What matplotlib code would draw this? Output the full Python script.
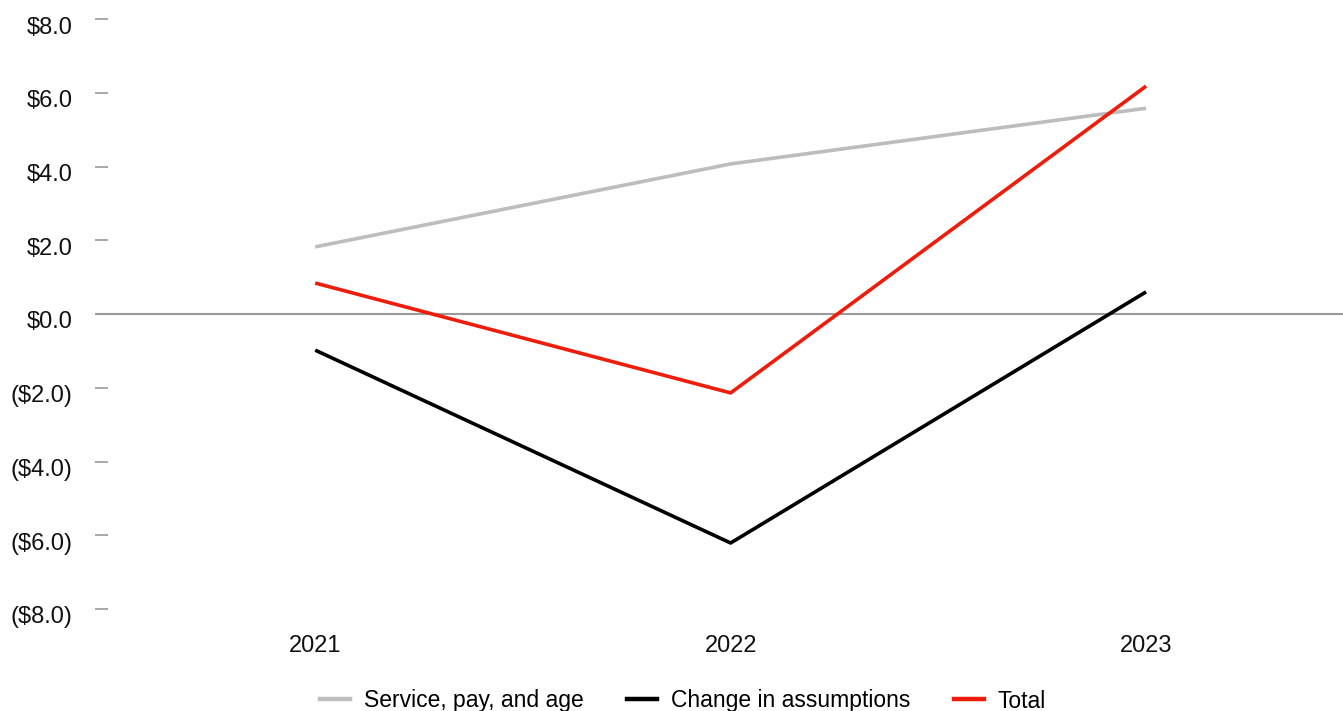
import matplotlib
matplotlib.use("Agg")
import matplotlib.pyplot as plt
import matplotlib.transforms as mtransforms
from matplotlib.lines import Line2D

years = ["2021", "2022", "2023"]
service_pay_age = [1.82, 4.07, 5.58]
change_assumptions = [-0.98, -6.21, 0.60]
total = [0.84, -2.14, 6.18]
y_ticks = [-8, -6, -4, -2, 0, 2, 4, 6, 8]
series_names = ["Service, pay, and age", "Change in assumptions", "Total"]
colors = ["#bdbdbd", "#000000", "#ee1c0a"]

plt.rcParams['font.family'] = ['Liberation Sans', 'DejaVu Sans']

W, H = 1343, 711
fig = plt.figure(figsize=(W / 100, H / 100), dpi=100)
left = 95 / W
bottom = 1 - 609 / H
top = 1 - 19 / H
ax = fig.add_axes([left, bottom, 1 - left, top - bottom])

x = list(range(len(years)))
for vals, c, name in zip([service_pay_age, change_assumptions, total], colors, series_names):
    ax.plot(x, vals, color=c, lw=2.6, label=name, solid_capstyle='butt', zorder=3)

ax.axhline(0, color="#9a9a9a", lw=1.5, zorder=2)
ax.set_xlim(-0.53, 2.474)
ax.set_ylim(-8, 8)
ax.set_yticks(y_ticks)

def fmt(v):
    return f"${v:.1f}" if v >= 0 else f"(${abs(v):.1f})"

ax.set_yticklabels([fmt(v) for v in y_ticks])
ax.set_xticks(x)
ax.set_xticklabels(years)
for s in ax.spines.values():
    s.set_visible(False)
ax.tick_params(axis='y', direction='in', length=9, width=1.2, color="#9a9a9a",
               pad=16, labelsize=17, labelcolor="#111111")
ax.tick_params(axis='x', length=0, pad=18.5, labelsize=17, labelcolor="#111111")

offset = mtransforms.ScaledTranslation(0, -6 / 100, fig.dpi_scale_trans)
for lab in ax.get_yticklabels():
    lab.set_transform(lab.get_transform() + offset)

handles = [Line2D([0], [0], color=c, lw=3.2) for c in colors]
fig.legend(handles, series_names, loc='center', bbox_to_anchor=(683 / W, 1 - 701 / H),
           ncol=3, frameon=False, prop={'size': 16.5},
           handlelength=1.31, handletextpad=0.61, columnspacing=1.9,
           borderaxespad=0, borderpad=0)

fig.savefig("out.png", dpi=100)
